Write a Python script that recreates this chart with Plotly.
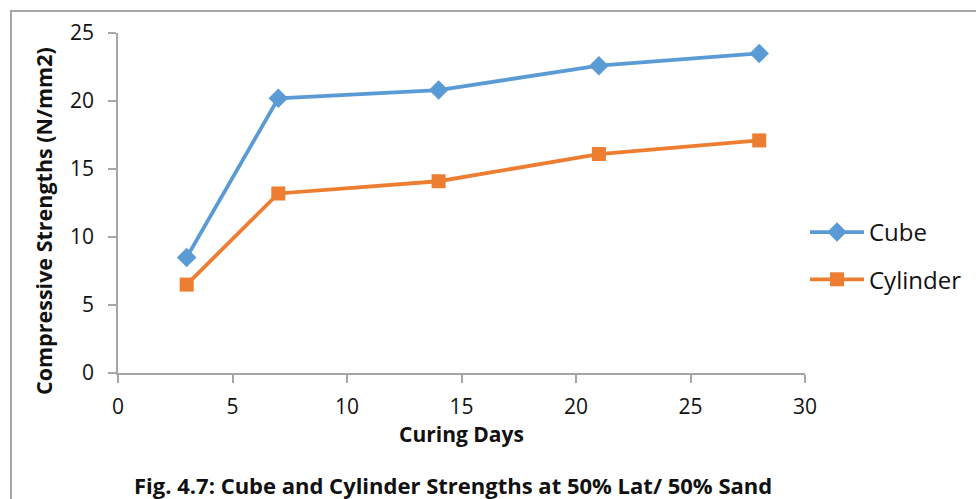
import plotly.graph_objects as go

days = [3, 7, 14, 21, 28]
cube = [8.5, 20.2, 20.8, 22.6, 23.5]
cylinder = [6.5, 13.2, 14.1, 16.1, 17.1]
x_ticks = [0, 5, 10, 15, 20, 25, 30]
y_ticks = [0, 5, 10, 15, 20, 25]

FONT = "Open Sans"
W, H = 976, 499
L, R, T, B = 118, 171, 33, 126
pw, ph = W - L - R, H - T - B

fig = go.Figure()
fig.add_trace(go.Scatter(
    x=days, y=cube, name="Cube", mode="lines+markers", legendgroup="a",
    line=dict(color="#5b9bd5", width=3.8),
    marker=dict(symbol="diamond", size=15, color="#5b9bd5"),
))
fig.add_trace(go.Scatter(
    x=days, y=cylinder, name="Cylinder", mode="lines+markers", legendgroup="b",
    line=dict(color="#ed7d31", width=3.8),
    marker=dict(symbol="square", size=14, color="#ed7d31"),
))

axis_common = dict(
    showgrid=False, zeroline=False, showline=True, linecolor="#a6a6a6", linewidth=1.5,
    ticks="outside", ticklen=8, tickcolor="#a6a6a6", tickwidth=1.5,
    tickfont=dict(family=FONT, size=21, color="#111"),
)

fig.update_layout(
    width=W, height=H,
    margin=dict(l=L, r=R, t=T, b=B, autoexpand=False),
    paper_bgcolor="white", plot_bgcolor="white",
    showlegend=True,
    legend=dict(x=(805 - L) / pw, y=(373 - 210) / ph, xanchor="left", yanchor="top",
                font=dict(family=FONT, size=24, color="#111"),
                itemwidth=54,
                traceorder="grouped", tracegroupgap=13, bgcolor="rgba(0,0,0,0)"),
    xaxis=dict(range=[0, 30], tickvals=x_ticks, ticktext=[str(v) for v in x_ticks],
               ticklabelstandoff=6,
               title=dict(text="<b>Curing Days</b>", font=dict(family=FONT, size=21, color="#111"), standoff=1),
               **axis_common),
    yaxis=dict(range=[0, 25], tickvals=y_ticks, ticktext=[str(v) for v in y_ticks],
               ticklabelstandoff=10,
               **axis_common),
)

fig.add_annotation(
    text="<b>Compressive Strengths (N/mm2)</b>", textangle=-90,
    xref="paper", yref="paper", x=(43 - L) / pw, y=(373 - 221) / ph,
    xanchor="center", yanchor="middle", showarrow=False,
    font=dict(family=FONT, size=21.5, color="#111"),
)

fig.add_annotation(
    text="<b>Fig. 4.7: Cube and Cylinder Strengths at 50% Lat/ 50% Sand</b>",
    xref="paper", yref="paper", x=(453 - L) / pw, y=-(485 - 373) / ph,
    xanchor="center", yanchor="middle", showarrow=False,
    font=dict(family=FONT, size=22, color="#111"),
)

fig.add_shape(
    type="rect", xref="paper", yref="paper",
    x0=(11 - L) / pw, x1=(990 - L) / pw, y0=-(520 - 373) / ph, y1=1 + (T - 11) / ph,
    line=dict(color="#a6a6a6", width=2), fillcolor="rgba(0,0,0,0)", layer="below",
)

fig.write_html("out.html")
